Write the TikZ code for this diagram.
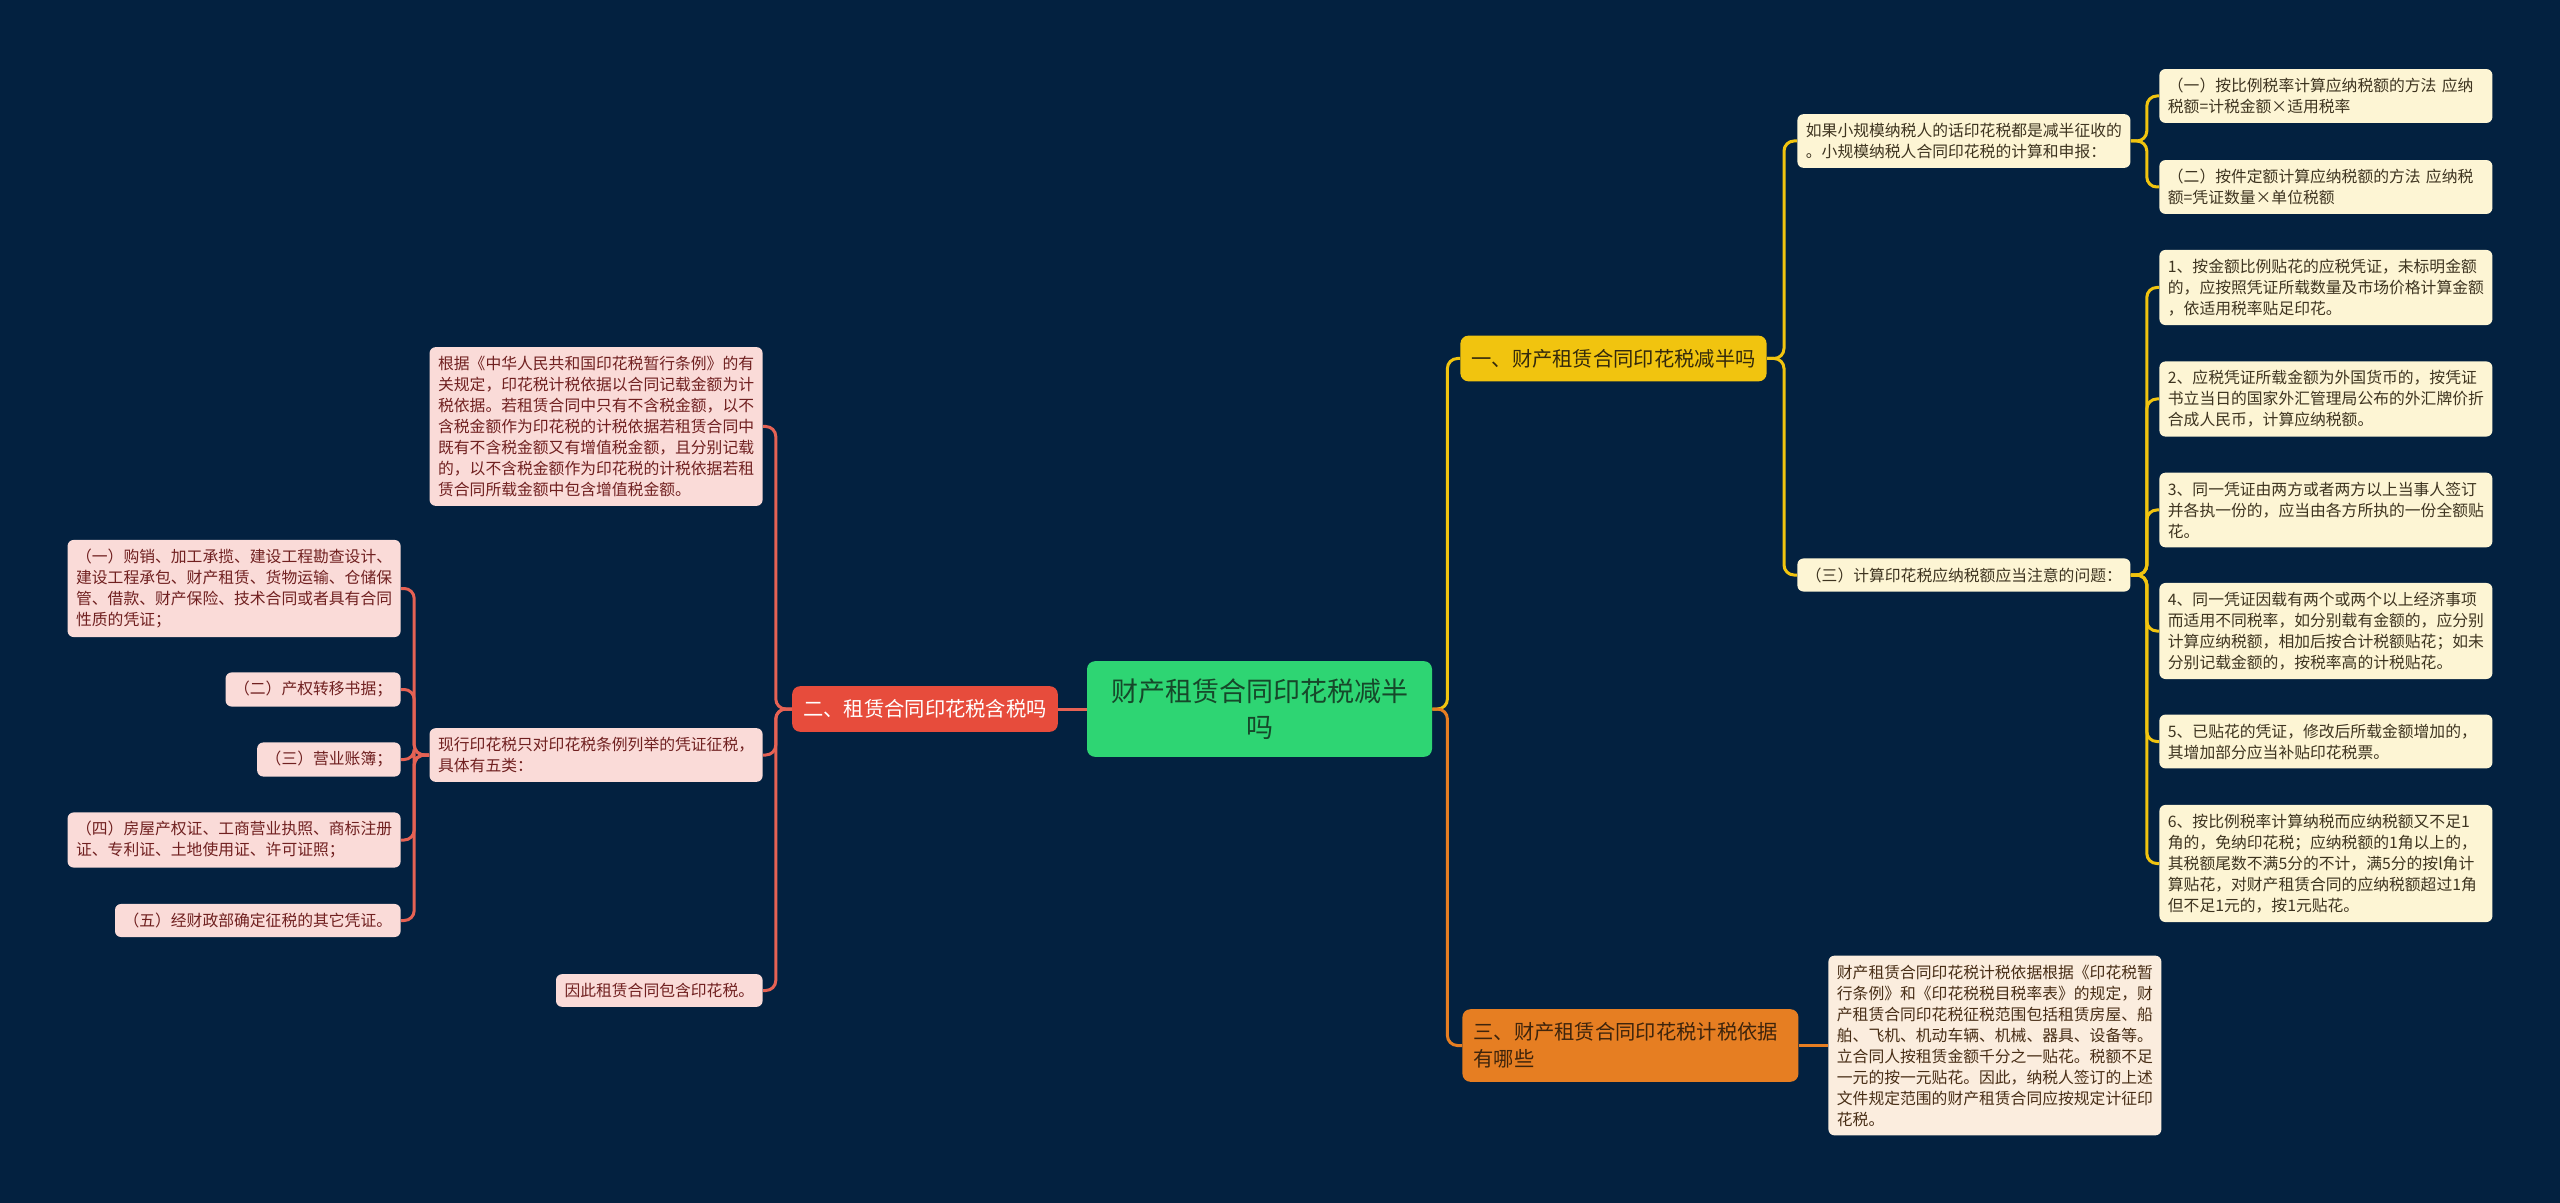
\documentclass[tikz,border=0pt]{standalone}
\usepackage{fontspec}
\setmainfont{Noto Sans CJK SC}
\usepackage{tikz}
\usetikzlibrary{positioning, calc}
\definecolor{bgnavy}{RGB}{3,33,64}
\definecolor{rootgreen}{RGB}{46,213,115}
\definecolor{roottext}{RGB}{22,72,42}
\definecolor{gold}{RGB}{241,196,15}
\definecolor{goldtext}{RGB}{52,42,12}
\definecolor{redb}{RGB}{231,76,60}
\definecolor{redline}{RGB}{230,98,84}
\definecolor{orangeb}{RGB}{230,126,34}
\definecolor{orangetext}{RGB}{62,36,12}
\definecolor{cream}{RGB}{253,245,212}
\definecolor{creamtext}{RGB}{62,52,32}
\definecolor{pinkleaf}{RGB}{250,219,216}
\definecolor{pinktext}{RGB}{112,32,32}
\definecolor{peach}{RGB}{251,237,222}
\definecolor{peachtext}{RGB}{72,46,22}

\begin{document}
\begin{tikzpicture}[x=0.5pt, y=-0.5pt,
  leaf/.style={rounded corners=3pt, inner xsep=4.25pt, inner ysep=4.5pt, align=left, font=\fontsize{7.9pt}{10.5pt}\selectfont},
  wideleaf/.style={leaf, text width=158pt},
  rleaf/.style={fill=cream, text=creamtext},
  lleaf/.style={fill=pinkleaf, text=pinktext},
  branch/.style={rounded corners=4pt, inner xsep=5.5pt, inner ysep=6.7pt, font=\fontsize{10.15pt}{13.5pt}\selectfont},
  yline/.style={draw=gold, line width=1.5pt, rounded corners=5pt},
  oline/.style={draw=orangeb, line width=1.5pt, rounded corners=5pt},
  rline/.style={draw=redline, line width=1.5pt, rounded corners=5pt}]
  \fill[bgnavy] (0,0) rectangle (2560,1203);
  \useasboundingbox (0,0) rectangle (2560,1203);
  \node[fill=rootgreen, text=roottext, rounded corners=4pt, minimum width=172.5pt, text width=156pt, inner ysep=8.7pt, align=center, font=\fontsize{13.5pt}{18pt}\selectfont] (n0) at (1259.5,709) {财产租赁合同印花税减半\\吗};
  \node[branch, fill=gold, text=goldtext] (n1) at (1613.5,358.5) {一、财产租赁合同印花税减半吗};
  \node[branch, fill=redb, text=white] (n2) at (925,709) {二、租赁合同印花税含税吗};
  \node[branch, fill=orangeb, text=orangetext, text width=157pt, align=left, anchor=west] (n3) at (1462,1045.5) {三、财产租赁合同印花税计税依据\\有哪些};
  \node[wideleaf, rleaf, anchor=west] (n4) at (1797,141) {如果小规模纳税人的话印花税都是减半征收的\\。小规模纳税人合同印花税的计算和申报：};
  \node[leaf, rleaf, anchor=west] (n5) at (1797,575) {（三）计算印花税应纳税额应当注意的问题：};
  \node[wideleaf, rleaf, anchor=west] (n6) at (2159,96) {（一）按比例税率计算应纳税额的方法 应纳\\税额=计税金额×适用税率};
  \node[wideleaf, rleaf, anchor=west] (n7) at (2159,187) {（二）按件定额计算应纳税额的方法 应纳税\\额=凭证数量×单位税额};
  \node[wideleaf, rleaf, anchor=west] (n8) at (2159,287.5) {1、按金额比例贴花的应税凭证，未标明金额\\的，应按照凭证所载数量及市场价格计算金额\\，依适用税率贴足印花。};
  \node[wideleaf, rleaf, anchor=west] (n9) at (2159,399) {2、应税凭证所载金额为外国货币的，按凭证\\书立当日的国家外汇管理局公布的外汇牌价折\\合成人民币，计算应纳税额。};
  \node[wideleaf, rleaf, anchor=west] (n10) at (2159,510) {3、同一凭证由两方或者两方以上当事人签订\\并各执一份的，应当由各方所执的一份全额贴\\花。};
  \node[wideleaf, rleaf, anchor=west] (n11) at (2159,631) {4、同一凭证因载有两个或两个以上经济事项\\而适用不同税率，如分别载有金额的，应分别\\计算应纳税额，相加后按合计税额贴花；如未\\分别记载金额的，按税率高的计税贴花。};
  \node[wideleaf, rleaf, anchor=west] (n12) at (2159,741.5) {5、已贴花的凭证，修改后所载金额增加的，\\其增加部分应当补贴印花税票。};
  \node[wideleaf, rleaf, anchor=west] (n13) at (2159,863.5) {6、按比例税率计算纳税而应纳税额又不足1\\角的，免纳印花税；应纳税额的1角以上的，\\其税额尾数不满5分的不计，满5分的按l角计\\算贴花，对财产租赁合同的应纳税额超过1角\\但不足1元的，按1元贴花。};
  \node[wideleaf, fill=peach, text=peachtext, anchor=west] (n14) at (1828,1045.5) {财产租赁合同印花税计税依据根据《印花税暂\\行条例》和《印花税税目税率表》的规定，财\\产租赁合同印花税征税范围包括租赁房屋、船\\舶、飞机、机动车辆、机械、器具、设备等。\\立合同人按租赁金额千分之一贴花。税额不足\\一元的按一元贴花。因此，纳税人签订的上述\\文件规定范围的财产租赁合同应按规定计征印\\花税。};
  \node[wideleaf, lleaf, anchor=east] (n15) at (763,426.5) {根据《中华人民共和国印花税暂行条例》的有\\关规定，印花税计税依据以合同记载金额为计\\税依据。若租赁合同中只有不含税金额，以不\\含税金额作为印花税的计税依据若租赁合同中\\既有不含税金额又有增值税金额，且分别记载\\的，以不含税金额作为印花税的计税依据若租\\赁合同所载金额中包含增值税金额。};
  \node[wideleaf, lleaf, anchor=east] (n16) at (763,755) {现行印花税只对印花税条例列举的凭证征税，\\具体有五类：};
  \node[leaf, lleaf, anchor=east] (n17) at (763,990.5) {因此租赁合同包含印花税。};
  \node[wideleaf, lleaf, anchor=east] (n18) at (401,588.5) {（一）购销、加工承揽、建设工程勘查设计、\\建设工程承包、财产租赁、货物运输、仓储保\\管、借款、财产保险、技术合同或者具有合同\\性质的凭证；};
  \node[leaf, lleaf, anchor=east] (n19) at (401,689.5) {（二）产权转移书据；};
  \node[leaf, lleaf, anchor=east] (n20) at (401,759.5) {（三）营业账簿；};
  \node[wideleaf, lleaf, anchor=east] (n21) at (401,840) {（四）房屋产权证、工商营业执照、商标注册\\证、专利证、土地使用证、许可证照；};
  \node[leaf, lleaf, anchor=east] (n22) at (401,920.5) {（五）经财政部确定征税的其它凭证。};
  \draw[yline] (n0.east) -- ++(15,0) |- (n1.west);
  \draw[oline] (n0.east) -- ++(15,0) |- (n3.west);
  \draw[rline] (n0.west) -- (n2.east);
  \draw[yline] (n1.east) -- ++(17,0) |- (n4.west);
  \draw[yline] (n1.east) -- ++(17,0) |- (n5.west);
  \draw[yline] (n4.east) -- ++(16,0) |- (n6.west);
  \draw[yline] (n4.east) -- ++(16,0) |- (n7.west);
  \draw[yline] (n5.east) -- ++(16,0) |- (n8.west);
  \draw[yline] (n5.east) -- ++(16,0) |- (n9.west);
  \draw[yline] (n5.east) -- ++(16,0) |- (n10.west);
  \draw[yline] (n5.east) -- ++(16,0) |- (n11.west);
  \draw[yline] (n5.east) -- ++(16,0) |- (n12.west);
  \draw[yline] (n5.east) -- ++(16,0) |- (n13.west);
  \draw[oline] (n3.east) -- (n14.west);
  \draw[rline] (n2.west) -- ++(-16,0) |- (n15.east);
  \draw[rline] (n2.west) -- ++(-16,0) |- (n16.east);
  \draw[rline] (n2.west) -- ++(-16,0) |- (n17.east);
  \draw[rline] (n16.west) -- ++(-15,0) |- (n18.east);
  \draw[rline] (n16.west) -- ++(-15,0) |- (n19.east);
  \draw[rline] (n16.west) -- ++(-15,0) |- (n20.east);
  \draw[rline] (n16.west) -- ++(-15,0) |- (n21.east);
  \draw[rline] (n16.west) -- ++(-15,0) |- (n22.east);
\end{tikzpicture}
\end{document}
